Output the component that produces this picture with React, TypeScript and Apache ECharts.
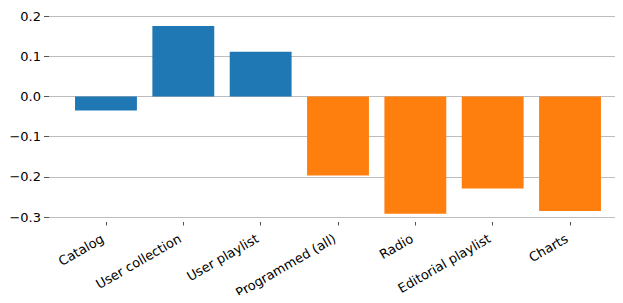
import React, { useEffect, useRef } from "react";
import * as echarts from "echarts";

const categories = ["Catalog", "User collection", "User playlist", "Programmed (all)", "Radio", "Editorial playlist", "Charts"];
const values = [-0.035, 0.175, 0.111, -0.197, -0.292, -0.229, -0.285];
const barColors = ["#1f77b4", "#1f77b4", "#1f77b4", "#ff7f0e", "#ff7f0e", "#ff7f0e", "#ff7f0e"];
const yMin = -0.3;
const yMax = 0.2;

export default function App() {
  const ref = useRef<HTMLDivElement>(null);
  useEffect(() => {
    const chart = echarts.init(ref.current!, null, { renderer: "svg" });
    const font = "DejaVu Sans";
    chart.setOption({
      animation: false,
      grid: [
        { left: 49, right: 3, top: 16, height: 201 },
        { left: 67.3, right: 14.3, top: 16, height: 201 },
      ],
      xAxis: [
        { type: "value", gridIndex: 0, min: 0, max: 1, show: false },
        {
          type: "category",
          gridIndex: 1,
          data: categories,
          offset: 5,
          axisLine: { show: false, onZero: false },
          axisTick: { show: true, alignWithLabel: true, length: 3.5, lineStyle: { color: "#555" } },
          axisLabel: {
            rotate: 30,
            fontSize: 13,
            fontFamily: font,
            color: "#000",
            margin: 21,
            interval: 0,
            align: "right",
            verticalAlign: "bottom",
          },
        },
      ],
      yAxis: [
        {
          type: "value",
          gridIndex: 0,
          min: yMin,
          max: yMax,
          interval: 0.1,
          axisLine: { show: false },
          axisTick: { show: true, length: 5, lineStyle: { color: "#555" } },
          axisLabel: {
            fontSize: 13,
            fontFamily: font,
            color: "#000",
            margin: 8,
            formatter: (v: number) => v.toFixed(1).replace("-", "\u2212"),
          },
          splitLine: { show: true, lineStyle: { color: "#bcbcbc", width: 1 } },
        },
        { type: "value", gridIndex: 1, min: yMin, max: yMax, show: false },
      ],
      series: [
        {
          type: "bar",
          xAxisIndex: 1,
          yAxisIndex: 1,
          barWidth: "80%",
          data: values.map((v, i) => ({ value: v, itemStyle: { color: barColors[i] } })),
        },
      ],
    });
    return () => chart.dispose();
  }, []);
  return <div ref={ref} style={{ width: 623, height: 303, margin: -8 }} />;
}
